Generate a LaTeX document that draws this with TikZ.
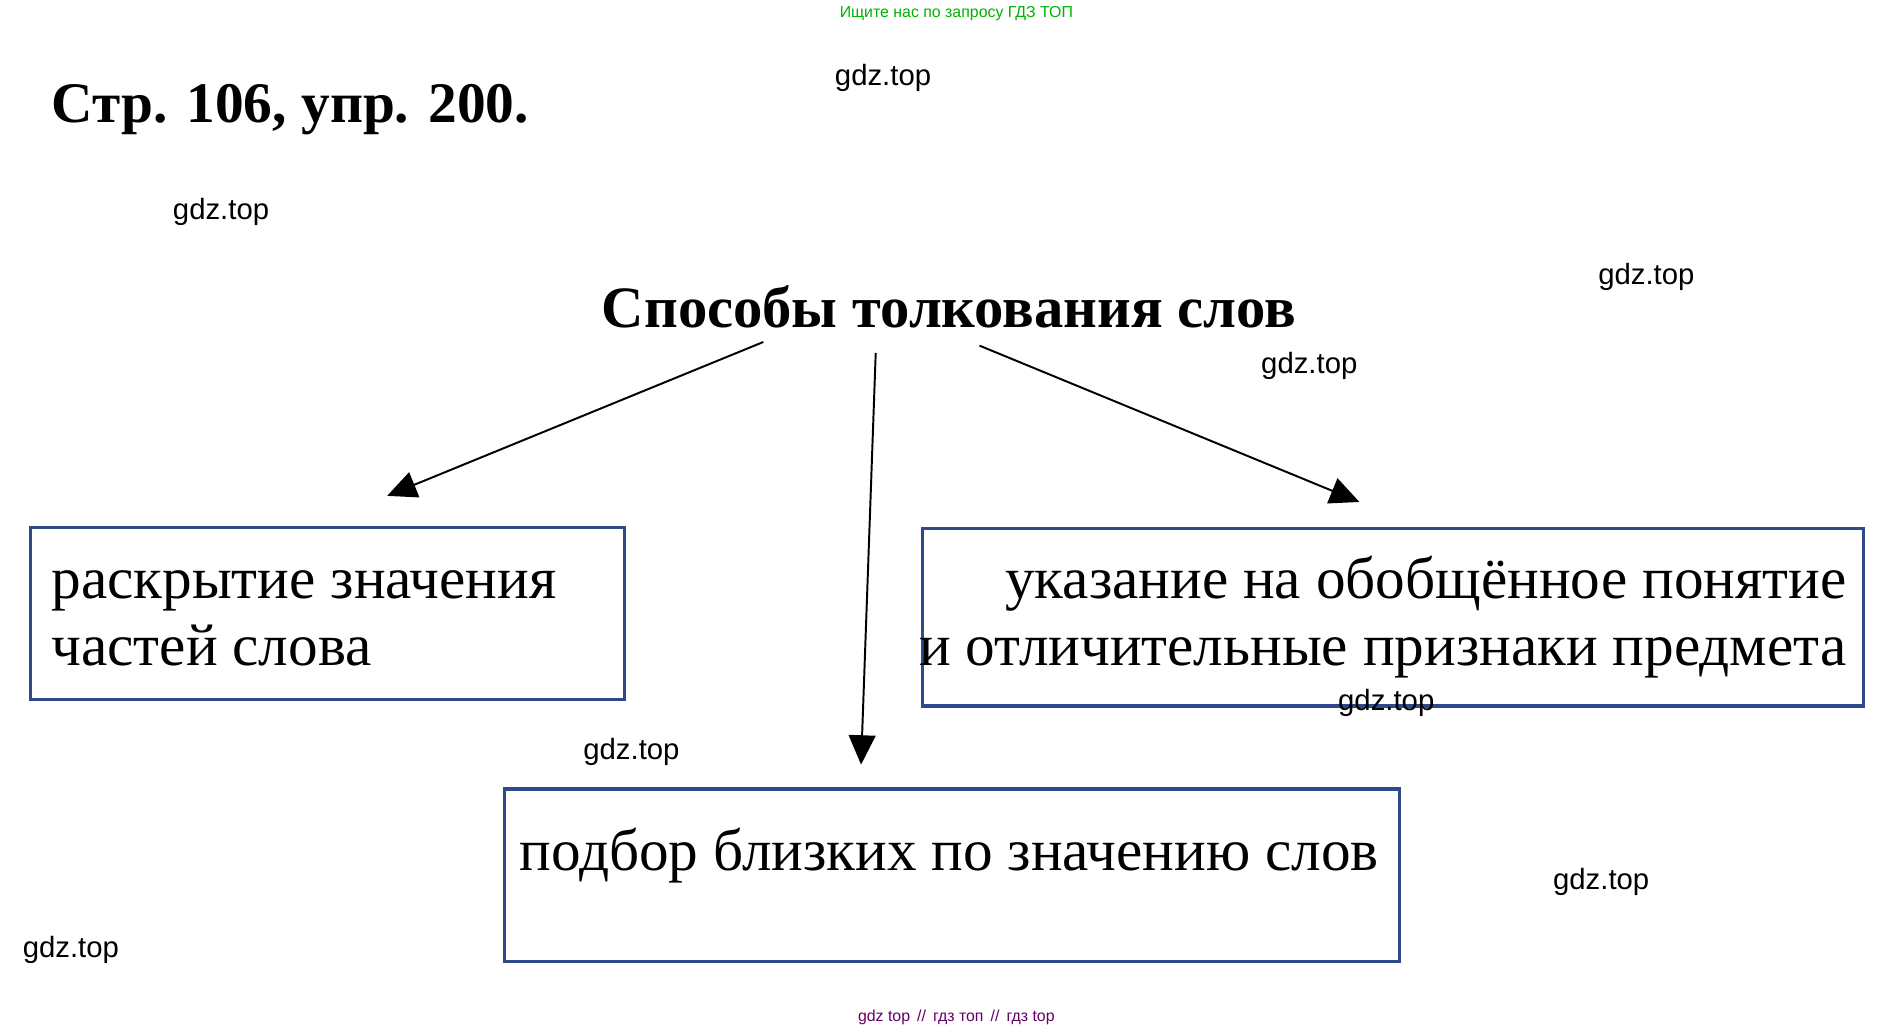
\documentclass[tikz,border=0pt]{standalone}
\usepackage{fontspec}
\setmainfont{Liberation Serif}
\newfontfamily\wm{Liberation Sans}
\usetikzlibrary{arrows.meta}
\begin{document}
\begin{tikzpicture}[x=1pt,y=-1pt,
  box/.style={draw=boxblue,line width=2.6pt},
  txt/.style={inner sep=0pt,font=\fontsize{48.5}{55}\selectfont},
  wmark/.style={inner sep=0pt,font=\wm\fontsize{24}{28}\selectfont},
  arr/.style={line width=1.6pt,-{Triangle[length=24pt,width=22pt]}}]
\definecolor{boxblue}{HTML}{2F4A8A}
\useasboundingbox (0,0) rectangle (1545,842);
\node[inner sep=0pt,anchor=base,text=green!70!black,font=\wm\fontsize{13}{15}\selectfont] (top) at (783,14) {Ищите нас по запросу ГДЗ ТОП};
\node[inner sep=0pt,anchor=base west,font=\bfseries\fontsize{47}{55}\selectfont] (hdr) at (42,100) {Стр. 106, упр. 200.};
\node[inner sep=0pt,anchor=base,font=\bfseries\fontsize{48}{55}\selectfont] (title) at (777,268) {Способы толкования слов};
\draw[box] (25,432) rectangle (511,573);
\draw[box] (755,433) rectangle (1526,578);
\draw[box] (413,646) rectangle (1146,787);
\node[txt,anchor=base west] (l1) at (42,490) {раскрытие значения};
\node[txt,anchor=base west] (l2) at (42,545) {частей слова};
\node[txt,anchor=base east] (r1) at (1512,490) {указание на обобщённое понятие};
\node[txt,anchor=base east] (r2) at (1512,545) {и отличительные признаки предмета};
\node[txt,anchor=base] (b1) at (777,713) {подбор близких по значению слов};
\coordinate (a1) at (625,280); \coordinate (e1) at (317,406);
\coordinate (a2) at (717,289); \coordinate (e2) at (705,626);
\coordinate (a3) at (802,283); \coordinate (e3) at (1113,411);
\draw[arr] (a1) -- (e1);
\draw[arr] (a2) -- (e2);
\draw[arr] (a3) -- (e3);
\foreach \x/\y [count=\i] in {723/70,181/180,1348/233,1072/306,1135/582,517/622,1311/728,58/784}
  \node[wmark,anchor=base] (w\i) at (\x,\y) {gdz.top};
\node[inner sep=0pt,anchor=base,text=violet!80!black,font=\wm\fontsize{13}{15}\selectfont] (bot) at (783,836) {gdz top \,//\, гдз топ \,//\, гдз top};
\end{tikzpicture}
\end{document}
